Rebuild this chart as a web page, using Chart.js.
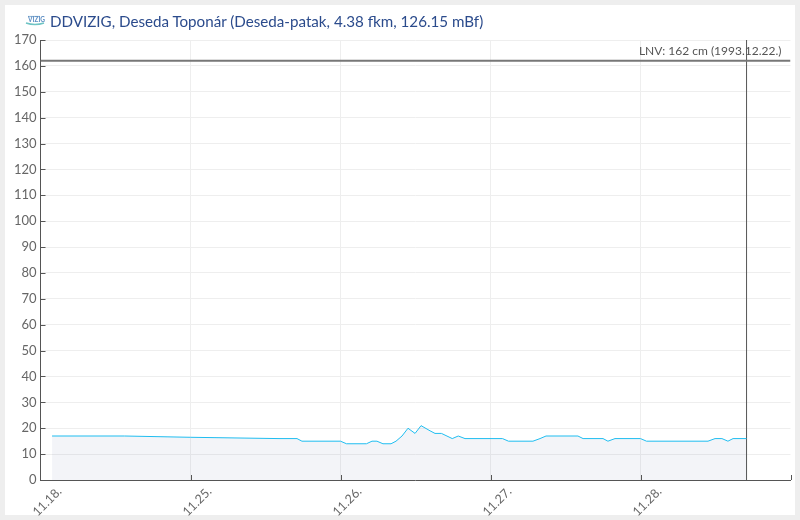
<!DOCTYPE html>
<html>
<head>
<meta charset="utf-8">
<style>
    html, body { margin: 0; padding: 0; background: #eeeeee; }
    #card { position: absolute; left: 5px; top: 5px; width: 790px; height: 510px; background: #ffffff; }
    #chart { position: absolute; left: 0; top: 0; }
    #title { position: absolute; left: 50px; top: 12px; font: 15.17px Lato, sans-serif; color: #2b4b8c; white-space: nowrap; }
    #logo { position: absolute; left: 25px; top: 14px; }
</style>
</head>
<body>
<div id="card"></div>
<canvas id="chart" width="800" height="520"></canvas>
<svg id="logo" width="20" height="12" viewBox="0 0 20 12">
    <path d="M3 2.5 H15" stroke="#9bbcd8" stroke-width="1.2"/>
    <text x="3" y="8" font-family="Lato" font-size="6.5" font-weight="700" fill="#5f8fc4">VIZIG</text>
    <path d="M1 9 Q10 12 19 9" stroke="#6fc4c4" stroke-width="1.4" fill="none"/>
</svg>
<div id="title">DDVIZIG, Deseda Toponár (Deseda-patak, 4.38 fkm, 126.15 mBf)</div>
<script src="https://cdn.jsdelivr.net/npm/chart.js@4"></script>
<script>
// axis position is in days, the first stretch (11.18. - 11.25.) is squeezed into one day width
const level_days = [0.077, 0.56, 1, 1.59, 1.71, 1.743, 2, 2.04, 2.173, 2.21, 2.243, 2.283, 2.337, 2.37, 2.41, 2.45, 2.497, 2.537, 2.597, 2.63, 2.673, 2.745, 2.785, 2.83, 3.08, 3.12, 3.283, 3.33, 3.37, 3.583, 3.617, 3.75, 3.783, 3.83, 4, 4.04, 4.45, 4.497, 4.543, 4.583, 4.617, 4.707];
const level_values = [17, 17, 16.5, 16, 16, 15, 15, 14, 14, 15, 15, 14, 14, 15, 17, 20, 18, 21, 19, 18, 18, 16, 17, 16, 16, 15, 15, 16, 17, 17, 16, 16, 15, 16, 16, 15, 15, 16, 16, 15, 16, 16];

const lnv_value = 162;
const lnv_label = 'LNV: 162 cm (1993.12.22.)';
const now_day = 4.707;

const x_tick_days = [0, 1, 2, 3, 4];
const x_tick_labels = ['11.18.', '11.25.', '11.26.', '11.27.', '11.28.'];
const y_tick_step = 10;
const y_max = 170;

const inner_ticks = {
    id: 'innerTicks',
    afterDatasetsDraw(chart) {
        const ctx = chart.ctx;
        const x = chart.scales.x;
        const y = chart.scales.y;
        const area = chart.chartArea;
        ctx.save();
        ctx.strokeStyle = '#555555';
        ctx.lineWidth = 1;
        ctx.beginPath();
        [1, 2, 3, 4, 5].forEach(d => {
            const px = Math.round(x.getPixelForValue(d)) + 0.5;
            ctx.moveTo(px, area.bottom);
            ctx.lineTo(px, area.bottom - 5);
        });
        y.ticks.forEach(t => {
            const py = Math.round(y.getPixelForValue(t.value)) + 0.5;
            ctx.moveTo(area.left, py);
            ctx.lineTo(area.left + 5, py);
        });
        ctx.stroke();
        ctx.fillStyle = '#555555';
        ctx.font = '12px Lato';
        ctx.textAlign = 'right';
        ctx.fillText(lnv_label, area.right - 9, y.getPixelForValue(lnv_value) - 6);
        ctx.restore();
    }
};

new Chart(document.getElementById('chart'), {
    type: 'line',
    data: {
        datasets: [
            {
                data: level_days.map((d, i) => ({ x: d, y: level_values[i] })),
                borderColor: '#1fbdf0',
                borderWidth: 1,
                backgroundColor: 'rgba(50, 70, 140, 0.06)',
                fill: 'origin',
                pointRadius: 0,
                tension: 0
            },
            {
                data: [{ x: 0, y: lnv_value }, { x: 5, y: lnv_value }],
                borderColor: '#777777',
                borderWidth: 2,
                pointRadius: 0
            },
            {
                data: [{ x: now_day, y: 0 }, { x: now_day, y: y_max }],
                borderColor: '#555555',
                borderWidth: 1,
                pointRadius: 0
            }
        ]
    },
    options: {
        responsive: false,
        animation: false,
        devicePixelRatio: 1,
        layout: { padding: { left: 0, right: 9.5, top: 40, bottom: 0 } },
        plugins: { legend: { display: false }, tooltip: { enabled: false } },
        scales: {
            x: {
                type: 'linear',
                min: 0,
                max: 5,
                afterFit: scale => { scale.height = 40; },
                afterBuildTicks: scale => { scale.ticks = x_tick_days.map(v => ({ value: v })); },
                grid: {
                    color: ctx => ctx.tick && ctx.tick.value < 0.5 ? 'rgba(0,0,0,0)' : '#eeeeee',
                    drawTicks: false
                },
                border: { color: '#555555', width: 1 },
                ticks: {
                    autoSkip: false,
                    maxRotation: 45,
                    minRotation: 45,
                    padding: 4,
                    labelOffset: 19,
                    color: '#666666',
                    font: { family: 'Lato', size: 12.5 },
                    callback: (v, i) => x_tick_labels[i]
                }
            },
            y: {
                min: 0,
                max: y_max,
                afterFit: scale => { scale.width = 40.5; },
                grid: { color: '#eeeeee', drawTicks: false },
                border: { color: '#555555', width: 1 },
                ticks: {
                    stepSize: y_tick_step,
                    autoSkip: false,
                    padding: 4,
                    color: '#666666',
                    font: { family: 'Lato', size: 13 }
                }
            }
        }
    },
    plugins: [inner_ticks]
});
</script>
</body>
</html>
